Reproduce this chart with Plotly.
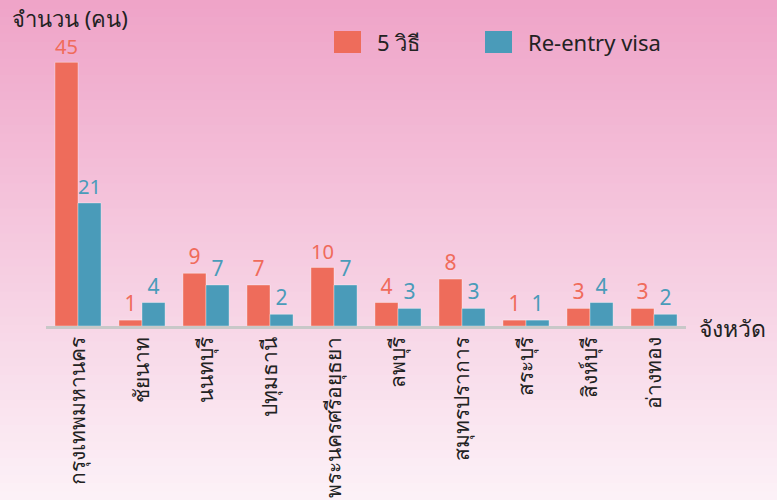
import plotly.graph_objects as go

provinces = ["กรุงเทพมหานคร", "ชัยนาท", "นนทบุรี", "ปทุมธานี", "พระนครศรีอยุธยา",
             "ลพบุรี", "สมุทรปราการ", "สระบุรี", "สิงห์บุรี", "อ่างทอง"]
five_ways = [45, 1, 9, 7, 10, 4, 8, 1, 3, 3]
reentry = [21, 4, 7, 2, 7, 3, 3, 1, 4, 2]
series_names = ["5 วิธี", "Re-entry visa"]

RED = "#EE6C5B"
BLUE = "#4A9BB9"
FONT = "Noto Sans, Tahoma, sans-serif"

W, H = 777, 500
ML, MR, MT, MB = 46, 91, 33, 174
pw, ph = W - ML - MR, H - MT - MB


def px_x(x):
    return (x - ML) / pw


def px_y(y):
    return (H - MB - y) / ph


fig = go.Figure()
fig.add_bar(x=provinces, y=five_ways, name=series_names[0], marker_color=RED,
            marker_line=dict(color="rgba(255,255,255,0.35)", width=1),
            text=five_ways, textposition="outside", cliponaxis=False,
            textfont=dict(color="#F06B5B", size=21, family=FONT))
fig.add_bar(x=provinces, y=reentry, name=series_names[1], marker_color=BLUE,
            marker_line=dict(color="rgba(255,255,255,0.35)", width=1),
            text=reentry, textposition="outside", cliponaxis=False,
            textfont=dict(color="#4A9BB9", size=21, family=FONT))

# vertical gradient background
top = (239, 164, 200)
bot = (252, 241, 247)
n = 60
shapes = []
for i in range(n):
    t = i / (n - 1)
    c = tuple(round(top[k] + (bot[k] - top[k]) * t) for k in range(3))
    y0px = H * i / n
    y1px = H * (i + 1) / n + 1
    shapes.append(dict(type="rect", xref="paper", yref="paper", layer="below",
                       x0=px_x(-5), x1=px_x(W + 5),
                       y0=px_y(y0px), y1=px_y(y1px),
                       line=dict(width=0), fillcolor="rgb(%d,%d,%d)" % c))

# legend squares (drawn manually for size)
legend_items = [(334, RED, series_names[0]), (485, BLUE, series_names[1])]
annotations = []
for x0, col, name in legend_items:
    shapes.append(dict(type="rect", xref="paper", yref="paper",
                       x0=px_x(x0), x1=px_x(x0 + 27), y0=px_y(53), y1=px_y(31),
                       line=dict(width=0), fillcolor=col))
    annotations.append(dict(text=name, xref="paper", yref="paper",
                            x=px_x(x0 + 41), y=px_y(42), xanchor="left", yanchor="middle",
                            showarrow=False, font=dict(size=22, color="#222222", family=FONT)))

annotations += [
    dict(text="จำนวน (คน)", xref="paper", yref="paper",
         x=px_x(10), y=px_y(18), xanchor="left", yanchor="middle",
         showarrow=False, font=dict(size=22, color="#222222", family=FONT)),
    dict(text="จังหวัด", xref="paper", yref="paper",
         x=px_x(697), y=px_y(328), xanchor="left", yanchor="middle",
         showarrow=False, font=dict(size=23, color="#222222", family=FONT)),
]

fig.update_layout(
    width=W, height=H,
    margin=dict(l=ML, r=MR, t=MT, b=MB, autoexpand=False),
    barmode="group", bargap=0.28, bargroupgap=0,
    paper_bgcolor="rgb(246,210,228)", plot_bgcolor="rgba(0,0,0,0)",
    font=dict(family=FONT, color="#222222"),
    shapes=shapes,
    annotations=annotations,
    showlegend=False,
    xaxis=dict(showline=True, linecolor="#C8C8C8", linewidth=3, ticks="",
               tickangle=-90, tickfont=dict(size=21, color="#222222"),
               showgrid=False, zeroline=False, automargin=False),
    yaxis=dict(range=[0, 50], visible=False, showgrid=False),
)

fig.write_html("out.html", config={"displayModeBar": False},
               post_script="document.body.style.margin='0';")
